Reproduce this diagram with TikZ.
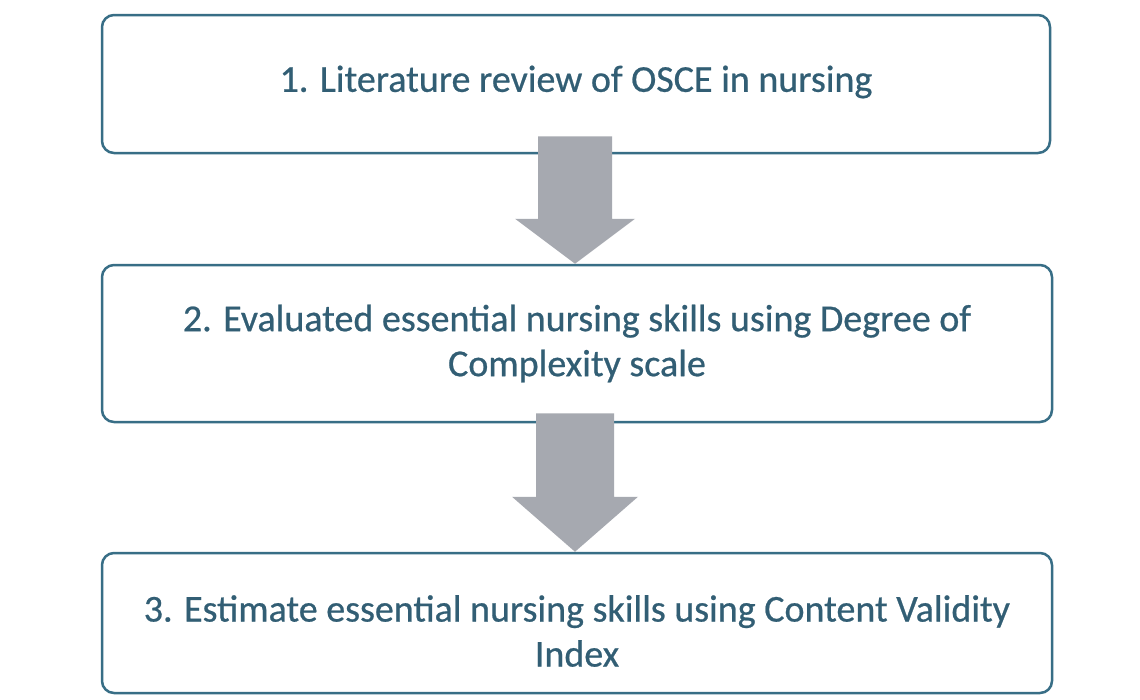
\documentclass[tikz,border=0pt]{standalone}
\usepackage{fontspec}
\setmainfont{Carlito}
\newfontfamily\boxfont[FakeBold=0.6]{Carlito}
\usetikzlibrary{calc}
\definecolor{boxline}{RGB}{56,110,134}
\definecolor{boxtext}{RGB}{50,94,116}
\definecolor{arrowfill}{RGB}{166,169,176}
\begin{document}
\begin{tikzpicture}[x=1pt,y=1pt,
  stepbox/.style={draw=boxline, line width=2.5pt, rounded corners=12pt, fill=white,
    inner sep=0pt},
  steptext/.style={align=center, text=boxtext, font=\boxfont\fontsize{38}{45}\selectfont, inner sep=0pt}]
\useasboundingbox (0,0) rectangle (1140,-699);
\fill[white] (0,0) rectangle (1140,-699);
% boxes
\node[stepbox, minimum width=948pt, minimum height=138pt] (b1) at (576,-84) {};
\node[steptext] (t1) at ($(b1.center)+(0,2)$) {1. Literature review of OSCE in nursing};
\node[stepbox, minimum width=950pt, minimum height=157pt] (b2) at (577,-343.5) {};
\node[steptext] (t2) at ($(b2.center)+(0,0)$)
  {2. Evaluated essential nursing skills using Degree of\\Complexity scale};
\node[stepbox, minimum width=950pt, minimum height=140pt] (b3) at (577,-623) {};
\node[steptext] (t3) at ($(b3.center)+(0,-8)$)
  {3. Estimate essential nursing skills using Content Validity\\Index};
% arrow 1 (b1 -> b2)
\coordinate (a1top) at ($(b1.south)+(-1,18)$);
\coordinate (a1tip) at (b2.north -| a1top);
\fill[arrowfill] ($(a1top)+(-37,0)$) -- ($(a1top)+(37,0)$)
  -- ($(a1tip)+(37,45)$) -- ($(a1tip)+(60,45)$) -- (a1tip)
  -- ($(a1tip)+(-60,45)$) -- ($(a1tip)+(-37,45)$) -- cycle;
% arrow 2 (b2 -> b3)
\coordinate (a2top) at ($(b2.south)+(-2,10)$);
\coordinate (a2tip) at (b3.north -| a2top);
\fill[arrowfill] ($(a2top)+(-39,0)$) -- ($(a2top)+(39,0)$)
  -- ($(a2tip)+(39,55)$) -- ($(a2tip)+(63,55)$) -- (a2tip)
  -- ($(a2tip)+(-63,55)$) -- ($(a2tip)+(-39,55)$) -- cycle;
\end{tikzpicture}
\end{document}
